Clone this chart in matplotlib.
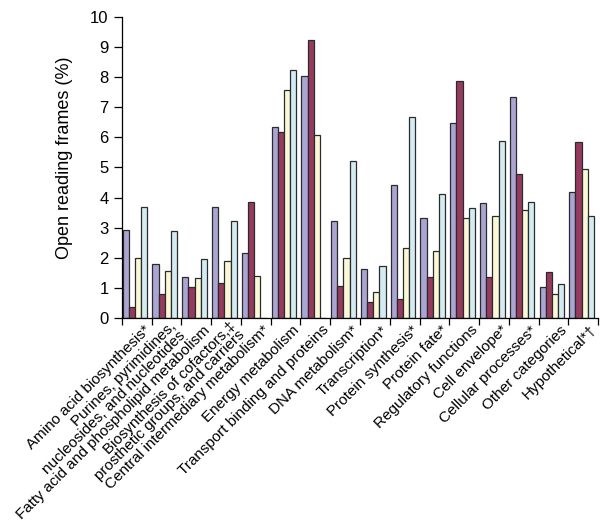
import numpy as np
import matplotlib
matplotlib.use('Agg')
import matplotlib.pyplot as plt
import matplotlib.transforms as mtransforms

plt.rcParams['font.family'] = ['Liberation Sans', 'DejaVu Sans']

categories = [
    'Amino acid biosynthesis*',
    'Purines, pyrimidines,\nnucleosides, and nucleotides',
    'Fatty acid and phospholipid metabolism',
    'Biosynthesis of cofactors,\u2021\nprosthetic groups, and carriers',
    'Central intermediary metabolism*',
    'Energy metabolism',
    'Transport binding and proteins',
    'DNA metabolism*',
    'Transcription*',
    'Protein synthesis*',
    'Protein fate*',
    'Regulatory functions',
    'Cell envelope*',
    'Cellular processes*',
    'Other categories',
    'Hypothetical*\u2020',
]

# four series per category (purple, maroon, yellow, blue)
purple = [2.93, 1.80, 1.36, 3.70, 2.15, 6.35, 8.02, 3.22, 1.64, 4.43, 3.33, 6.46, 3.81, 7.35, 1.05, 4.20]
maroon = [0.38, 0.81, 1.03, 1.18, 3.85, 6.18, 9.23, 1.08, 0.52, 0.63, 1.36, 7.88, 1.36, 4.77, 1.52, 5.86]
yellow = [1.99, 1.57, 1.33, 1.88, 1.40, 7.57, 6.09, 2.01, 0.86, 2.33, 2.22, 3.31, 3.39, 3.59, 0.81, 4.94]
blue = [3.68, 2.90, 1.96, 3.23, 0.0, 8.22, 0.0, 5.23, 1.73, 6.66, 4.12, 3.67, 5.87, 3.85, 1.13, 3.39]

series = [purple, maroon, yellow, blue]
colors = ['#aaa5d2', '#973a60', '#faf8d7', '#d4ebf2']

fig = plt.figure(figsize=(6, 5.25), dpi=100)
ax = fig.add_axes([0.203, 0.394, 0.794, 0.574])

x = np.arange(len(categories))
w = 0.2075
for k, (vals, c) in enumerate(zip(series, colors)):
    ax.bar(x + 0.03 + k * w, vals, width=w, align='edge', color=c,
           edgecolor='#2b2b2b', linewidth=0.9)

ax.set_xlim(0, len(categories))
ax.set_ylim(0, 10)
ax.set_yticks(range(0, 11))
ax.tick_params(axis='y', labelsize=12, length=6, width=0.9, direction='out')
ax.set_xticks(range(0, len(categories) + 1))
ax.set_xticklabels([])
ax.tick_params(axis='x', length=5, width=0.9, direction='out')

# rotated category labels; two-line labels are nudged up-left so they fit
base = mtransforms.blended_transform_factory(ax.transData, ax.transAxes)
for i, lab in enumerate(categories):
    nudge = 4.0 if '\n' in lab else 0.0
    off = mtransforms.ScaledTranslation((4.5 - 0.707 * nudge) / 72,
                                        (-3.5 + 0.707 * nudge) / 72,
                                        fig.dpi_scale_trans)
    ax.text(i + 0.5, 0, lab, transform=base + off, rotation=45,
            rotation_mode='anchor', ha='right', va='top', fontsize=11,
            linespacing=0.88, multialignment='right')

ax.spines['top'].set_visible(False)
ax.spines['right'].set_visible(False)
ax.spines['left'].set_linewidth(0.9)
ax.spines['bottom'].set_linewidth(0.9)

ax.set_ylabel('Open reading frames (%)', fontsize=13)
ax.yaxis.set_label_coords(-0.103, 0.533)

fig.savefig('out.png', dpi=100)
